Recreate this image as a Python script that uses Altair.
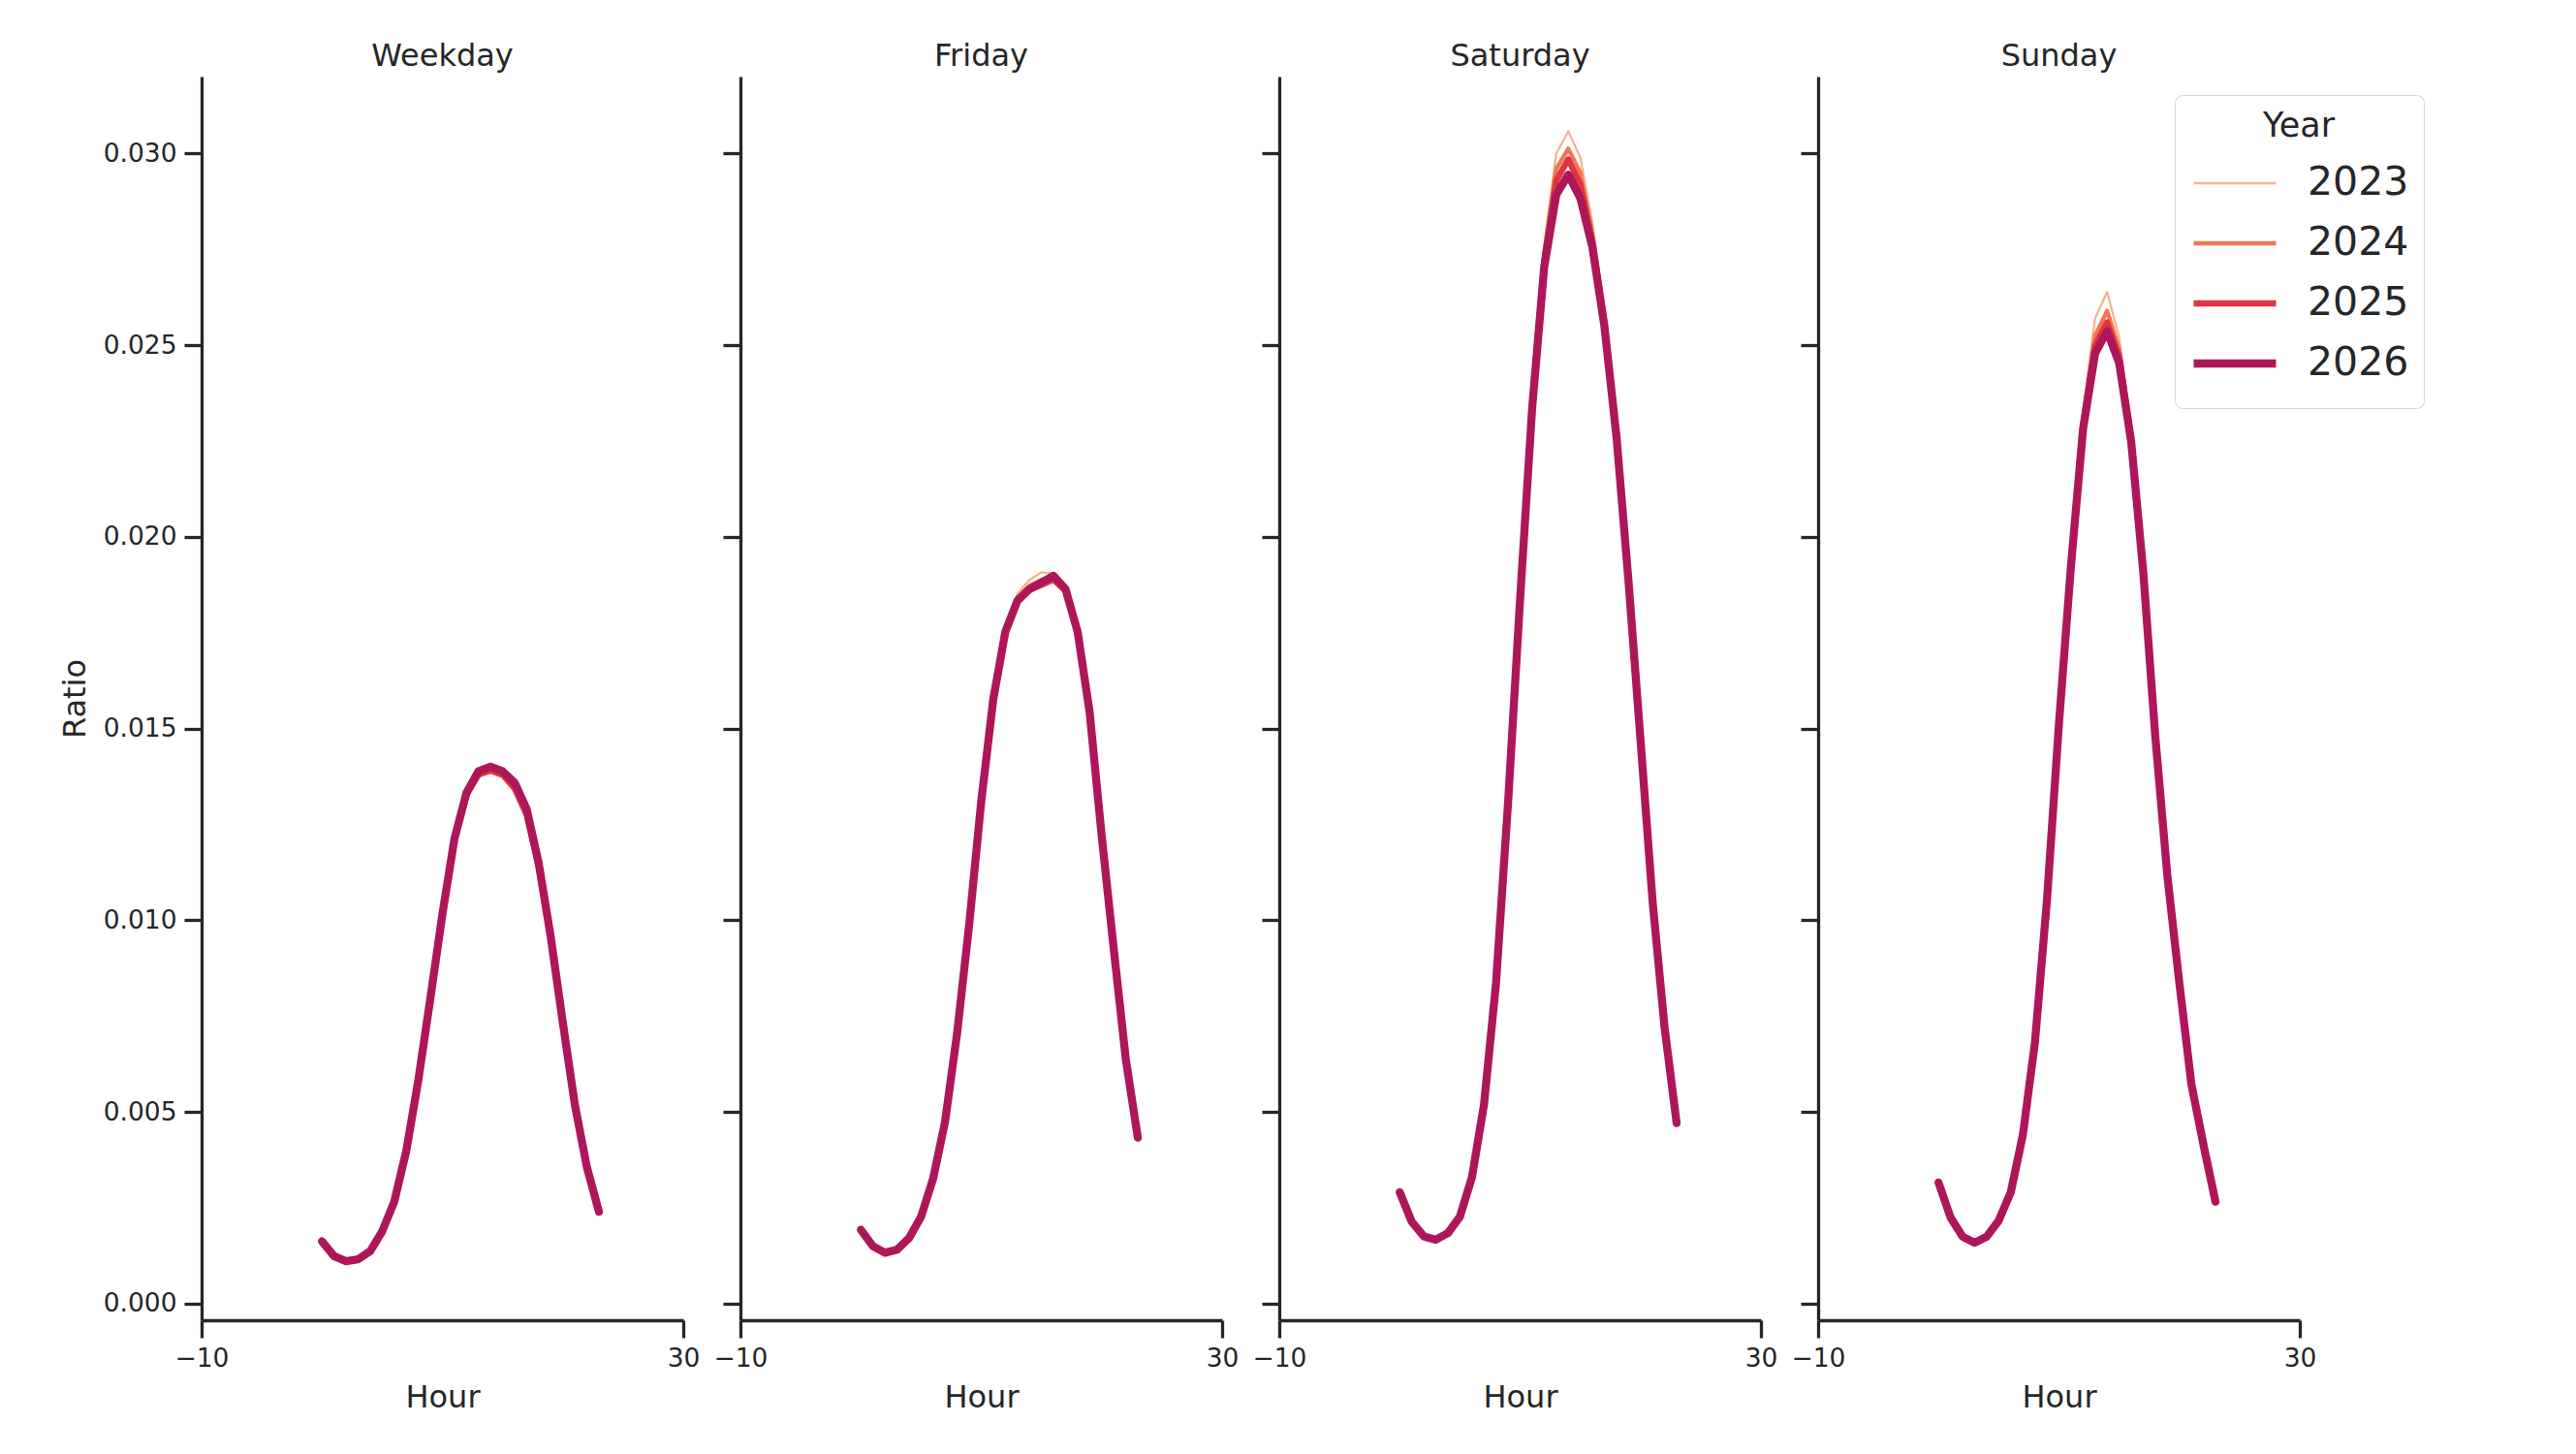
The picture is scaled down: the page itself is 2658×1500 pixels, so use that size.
import altair as alt
import pandas as pd

days = ["Weekday", "Friday", "Saturday", "Sunday"]
years = [2023, 2024, 2025, 2026]
hours = list(range(24))

year_colors = ["#f6b48e", "#f37651", "#e13342", "#ad1759"]
width_range = [2.3, 8.3]

weekday_2023 = [0.00163, 0.00124, 0.00111, 0.00116, 0.00137, 0.00189, 0.00266, 0.00399,
                0.00583, 0.00797, 0.01016, 0.01210, 0.01322, 0.01374, 0.01385, 0.01374,
                0.01338, 0.01268, 0.01130, 0.00950, 0.00730, 0.00519, 0.00356, 0.00240]
weekday_2024 = [0.00163, 0.00124, 0.00111, 0.00116, 0.00137, 0.00189, 0.00266, 0.00399,
                0.00583, 0.00797, 0.01016, 0.01211, 0.01325, 0.01378, 0.01389, 0.01377,
                0.01341, 0.01272, 0.01134, 0.00952, 0.00731, 0.00519, 0.00356, 0.00240]
weekday_2025 = [0.00163, 0.00124, 0.00111, 0.00116, 0.00137, 0.00189, 0.00266, 0.00399,
                0.00583, 0.00797, 0.01016, 0.01212, 0.01327, 0.01381, 0.01391, 0.01380,
                0.01344, 0.01275, 0.01138, 0.00953, 0.00732, 0.00519, 0.00356, 0.00240]
weekday_2026 = [0.00163, 0.00124, 0.00111, 0.00116, 0.00137, 0.00189, 0.00266, 0.00399,
                0.00583, 0.00797, 0.01016, 0.01213, 0.01333, 0.01389, 0.01401, 0.01389,
                0.01359, 0.01290, 0.01149, 0.00956, 0.00733, 0.00519, 0.00356, 0.00240]

friday_2023 = [0.00193, 0.00150, 0.00133, 0.00141, 0.00171, 0.00227, 0.00326, 0.00476,
               0.00707, 0.00990, 0.01311, 0.01580, 0.01762, 0.01852, 0.01888, 0.01908,
               0.01905, 0.01866, 0.01753, 0.01543, 0.01221, 0.00926, 0.00639, 0.00433]
friday_2024 = [0.00193, 0.00150, 0.00133, 0.00141, 0.00171, 0.00227, 0.00326, 0.00476,
               0.00707, 0.00990, 0.01311, 0.01578, 0.01757, 0.01842, 0.01873, 0.01888,
               0.01896, 0.01862, 0.01753, 0.01543, 0.01221, 0.00926, 0.00639, 0.00433]
friday_2025 = [0.00193, 0.00150, 0.00133, 0.00141, 0.00171, 0.00227, 0.00326, 0.00476,
               0.00707, 0.00990, 0.01311, 0.01577, 0.01754, 0.01836, 0.01862, 0.01875,
               0.01889, 0.01860, 0.01753, 0.01543, 0.01221, 0.00926, 0.00639, 0.00433]
friday_2026 = [0.00193, 0.00150, 0.00133, 0.00141, 0.00171, 0.00227, 0.00326, 0.00476,
               0.00707, 0.00990, 0.01311, 0.01577, 0.01753, 0.01834, 0.01864, 0.01881,
               0.01899, 0.01864, 0.01753, 0.01543, 0.01221, 0.00926, 0.00639, 0.00433]

saturday_2023 = [0.00291, 0.00214, 0.00176, 0.00167, 0.00184, 0.00227, 0.00330, 0.00519,
                 0.00836, 0.01307, 0.01850, 0.02370, 0.02760, 0.03000, 0.03058, 0.02990,
                 0.02820, 0.02590, 0.02280, 0.01890, 0.01470, 0.01050, 0.00720, 0.00471]
saturday_2024 = [0.00291, 0.00214, 0.00176, 0.00167, 0.00184, 0.00227, 0.00330, 0.00519,
                 0.00836, 0.01307, 0.01845, 0.02355, 0.02740, 0.02960, 0.03013, 0.02950,
                 0.02790, 0.02570, 0.02272, 0.01888, 0.01470, 0.01050, 0.00720, 0.00471]
saturday_2025 = [0.00291, 0.00214, 0.00176, 0.00167, 0.00184, 0.00227, 0.00330, 0.00519,
                 0.00836, 0.01307, 0.01842, 0.02345, 0.02720, 0.02930, 0.02985, 0.02920,
                 0.02770, 0.02560, 0.02268, 0.01887, 0.01470, 0.01050, 0.00720, 0.00471]
saturday_2026 = [0.00291, 0.00214, 0.00176, 0.00167, 0.00184, 0.00227, 0.00330, 0.00519,
                 0.00836, 0.01307, 0.01839, 0.02336, 0.02704, 0.02893, 0.02945, 0.02884,
                 0.02756, 0.02550, 0.02263, 0.01886, 0.01470, 0.01050, 0.00720, 0.00471]

sunday_2023 = [0.00316, 0.00225, 0.00175, 0.00159, 0.00175, 0.00217, 0.00291, 0.00440,
               0.00680, 0.01051, 0.01520, 0.01945, 0.02330, 0.02570, 0.02639, 0.02520,
               0.02280, 0.01925, 0.01485, 0.01120, 0.00836, 0.00572, 0.00415, 0.00266]
sunday_2024 = [0.00316, 0.00225, 0.00175, 0.00159, 0.00175, 0.00217, 0.00291, 0.00440,
               0.00680, 0.01051, 0.01517, 0.01935, 0.02305, 0.02525, 0.02590, 0.02490,
               0.02265, 0.01918, 0.01483, 0.01118, 0.00836, 0.00572, 0.00415, 0.00266]
sunday_2025 = [0.00316, 0.00225, 0.00175, 0.00159, 0.00175, 0.00217, 0.00291, 0.00440,
               0.00680, 0.01051, 0.01515, 0.01930, 0.02292, 0.02500, 0.02560, 0.02470,
               0.02255, 0.01913, 0.01481, 0.01117, 0.00836, 0.00572, 0.00415, 0.00266]
sunday_2026 = [0.00316, 0.00225, 0.00175, 0.00159, 0.00175, 0.00217, 0.00291, 0.00440,
               0.00680, 0.01051, 0.01513, 0.01926, 0.02281, 0.02479, 0.02537, 0.02454,
               0.02248, 0.01910, 0.01480, 0.01117, 0.00836, 0.00572, 0.00415, 0.00266]

series = {
    "Weekday": [weekday_2023, weekday_2024, weekday_2025, weekday_2026],
    "Friday": [friday_2023, friday_2024, friday_2025, friday_2026],
    "Saturday": [saturday_2023, saturday_2024, saturday_2025, saturday_2026],
    "Sunday": [sunday_2023, sunday_2024, sunday_2025, sunday_2026],
}

rows = []
for day in days:
    for year, values in zip(years, series[day]):
        for h, v in zip(hours, values):
            rows.append({"Day": day, "Year": year, "Hour": h, "Ratio": v})
df = pd.DataFrame(rows)

FONT = "DejaVu Sans"
INK = "#262626"
y_ticks = [0.0, 0.005, 0.01, 0.015, 0.02, 0.025, 0.03]


def panel(day, first, last):
    y_axis = dict(values=y_ticks, format=".3f", labels=first, title="Ratio" if first else "")
    year_legend = None
    if last:
        year_legend = alt.Legend(
            orient="none", legendX=368, legendY=19, title="Year",
            titleFontSize=35, titleFontWeight="normal", titleAnchor="middle",
            titleColor=INK, titleFont=FONT, titlePadding=10,
            labelFontSize=41, labelColor=INK, labelFont=FONT, labelOffset=28,
            symbolType="stroke", symbolSize=7225, rowPadding=0, clipHeight=62,
            padding=15, strokeColor="#d4d4d4", cornerRadius=8, fillColor="white",
        )
    color_enc = alt.Color("Year:O", scale=alt.Scale(domain=years, range=year_colors),
                          legend=year_legend)
    width_enc = alt.StrokeWidth("Year:O",
                                scale=alt.Scale(domain=years, range=width_range, padding=0),
                                legend=year_legend)
    return (
        alt.Chart(df, title=alt.TitleParams(day, fontSize=32, font=FONT, fontWeight="normal",
                                            color=INK, offset=4.5))
        .transform_filter(alt.datum.Day == day)
        .mark_line(strokeCap="round", strokeJoin="round")
        .encode(
            x=alt.X("Hour:Q", scale=alt.Scale(domain=[-10, 30], nice=False, zero=False),
                    axis=alt.Axis(values=[-10, 30], title="Hour")),
            y=alt.Y("Ratio:Q", scale=alt.Scale(domain=[-0.00043, 0.03201], nice=False, zero=False),
                    axis=alt.Axis(**y_axis)),
            color=color_enc,
            strokeWidth=width_enc,
        )
        .properties(width=497, height=1283)
    )


panels = [panel(d, i == 0, i == len(days) - 1) for i, d in enumerate(days)]

chart = (
    alt.hconcat(*panels, spacing=59, bounds="flush")
    .resolve_legend(color="independent", strokeWidth="independent")
    .properties(padding={"left": 53, "top": 33, "right": 10, "bottom": 10})
    .configure_view(stroke=None)
    .configure_axis(
        grid=False, domainColor=INK, domainWidth=3.3, tickColor=INK, tickWidth=3.3,
        tickSize=18, labelFontSize=26.5, labelColor=INK, labelFont=FONT, labelPadding=8,
        titleFontSize=32, titleFont=FONT, titleFontWeight="normal", titleColor=INK,
        labelFlush=False, labelOverlap=False,
    )
    .configure_axisX(titlePadding=12)
    .configure_axisY(titlePadding=12)
)

chart.save("out.html", embed_options={"renderer": "svg", "actions": False})
